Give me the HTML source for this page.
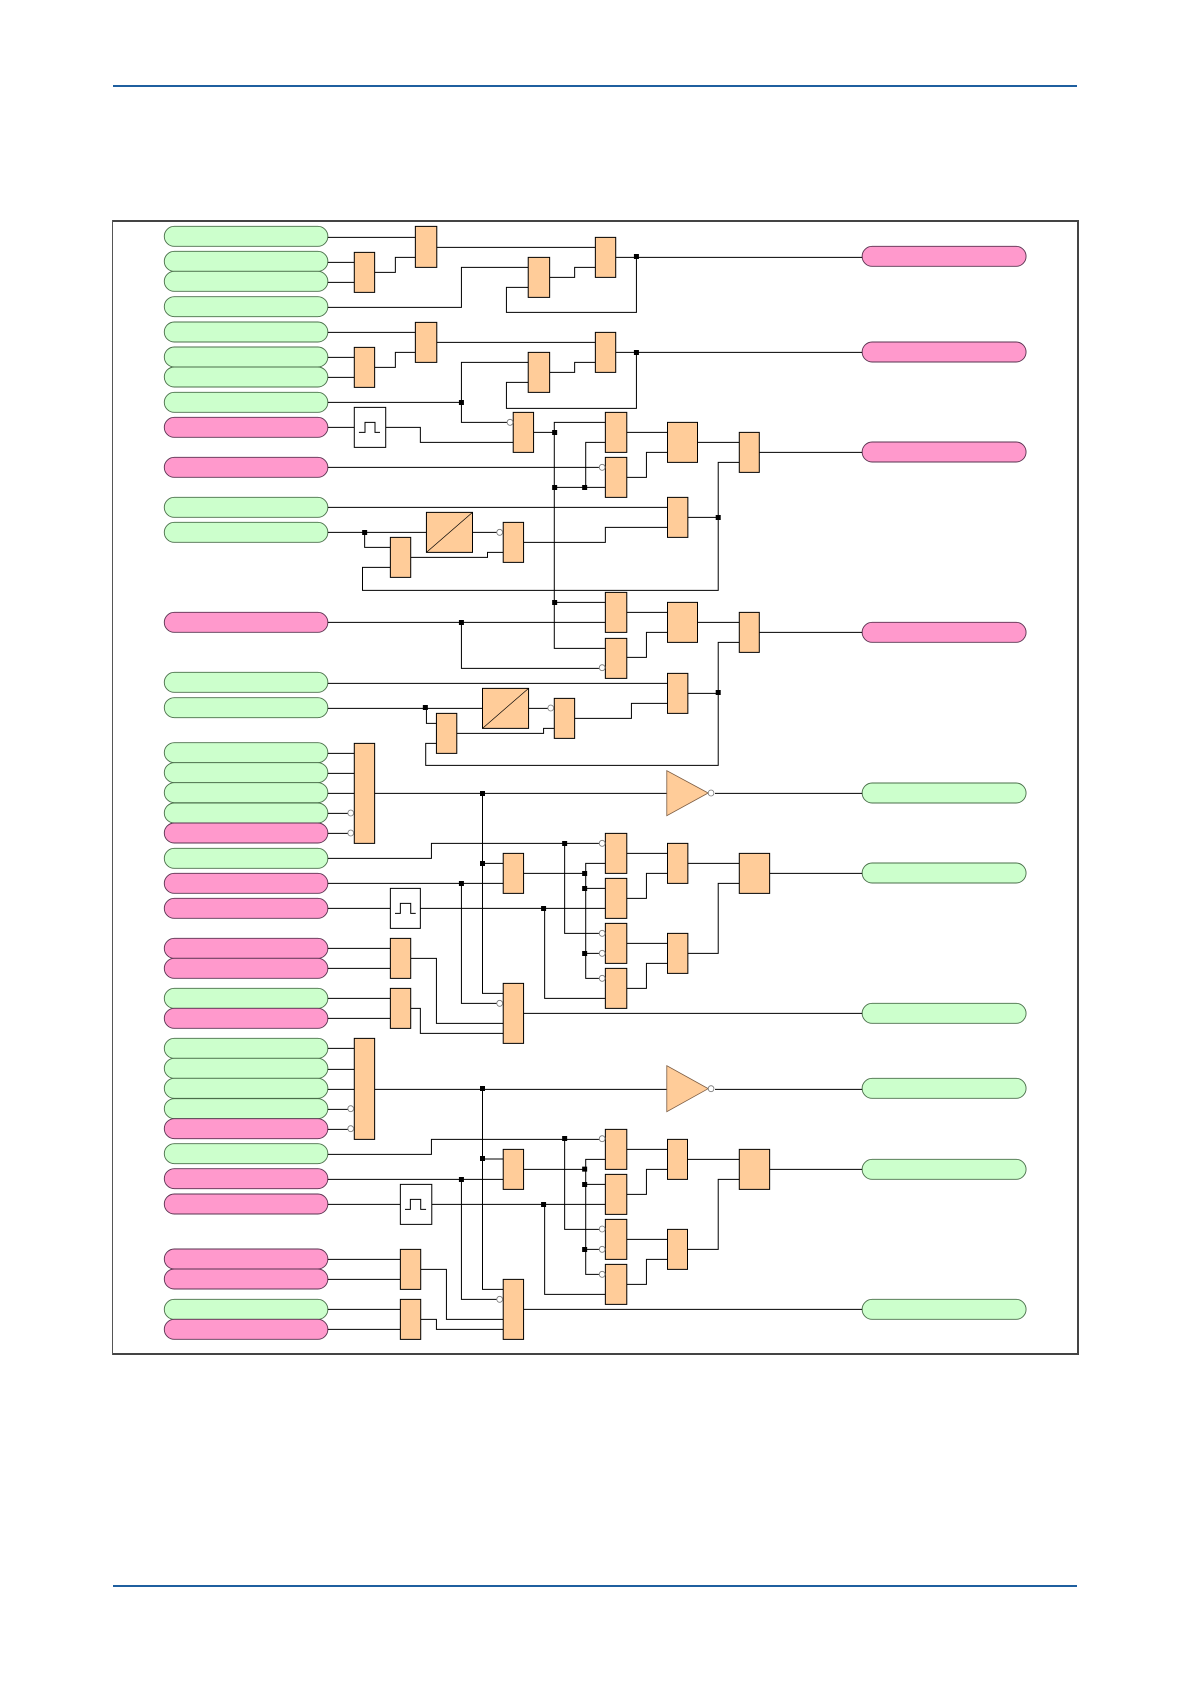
<!DOCTYPE html>
<html>
<head>
<meta charset="utf-8">
<title>Logic diagram</title>
<style>
html,body{margin:0;padding:0;background:#fff;width:1191px;height:1684px;overflow:hidden}
svg{display:block;position:absolute;left:0;top:0}
path,rect,ellipse,polygon{vector-effect:non-scaling-stroke}
.w{fill:none;stroke:#000;stroke-width:1}
.d{fill:none;stroke:#000;stroke-width:.7}
.b{fill:#ffcc99;stroke:#000;stroke-width:1}
.g{fill:#ccffcc;stroke:#4a6f4a;stroke-width:.9}
.p{fill:#ff99cc;stroke:#5a3350;stroke-width:.9}
.j{fill:#000;stroke:none}
.c ellipse{fill:#fff;stroke:#777;stroke-width:.8}
.box{fill:#fff;stroke:#000;stroke-width:1}
.tri{fill:#ffcc99;stroke:#7a5a40;stroke-width:.8}
</style>
</head>
<body>
<svg width="1191" height="1684" viewBox="0 0 1191 1684" xmlns="http://www.w3.org/2000/svg">
<defs>
<rect id="L" x="180" y="0" width="458" height="60" rx="28" ry="30"/>
<rect id="R" x="2134" y="0" width="459" height="60" rx="28" ry="30"/>
</defs>
<path fill="#1f5f9f" d="M113 85h964v2h-964z M113 1585h964v2h-964z"/>
<path fill="#444" d="M112 220h967v2h-967z M1077 220h2v1135h-2z M112 1353h967v2h-967z"/>
<path fill="#555" d="M112 220h1v1135h-1z"/>
<g transform="translate(100 200) scale(.357142857 .333333333)">
<g class="g">
<use href="#L" y="79"/><use href="#L" y="154"/><use href="#L" y="214"/><use href="#L" y="290"/><use href="#L" y="366"/><use href="#L" y="441"/><use href="#L" y="501"/><use href="#L" y="577"/><use href="#L" y="892"/><use href="#L" y="967"/><use href="#L" y="1417"/><use href="#L" y="1493"/><use href="#L" y="1628"/><use href="#L" y="1688"/><use href="#L" y="1748"/><use href="#L" y="1809"/><use href="#L" y="1945"/><use href="#L" y="2365"/><use href="#L" y="2515"/><use href="#L" y="2575"/><use href="#L" y="2635"/><use href="#L" y="2696"/><use href="#L" y="2831"/><use href="#L" y="3298"/>
<use href="#R" y="1749"/><use href="#R" y="1989"/><use href="#R" y="2410"/><use href="#R" y="2635"/><use href="#R" y="2878"/><use href="#R" y="3298"/>
</g>
<g class="p">
<use href="#L" y="652"/><use href="#L" y="772"/><use href="#L" y="1237"/><use href="#L" y="1869"/><use href="#L" y="2020"/><use href="#L" y="2095"/><use href="#L" y="2215"/><use href="#L" y="2275"/><use href="#L" y="2425"/><use href="#L" y="2756"/><use href="#L" y="2906"/><use href="#L" y="2982"/><use href="#L" y="3147"/><use href="#L" y="3207"/><use href="#L" y="3358"/>
<use href="#R" y="139"/><use href="#R" y="426"/><use href="#R" y="726"/><use href="#R" y="1267"/>
</g>
<path class="w" d="M638 112H883M638 187H712M638 247H712M769 217H827V172H883M943 142H1387M638 322H1012V202H1199M1199 262H1138V337H1502V172M1259 232H1329V202H1387M1444 172H2134M638 397H883M638 472H712M638 532H712M769 502H827V457H883M943 427H1387M1199 487H1012V667H1148M638 607H1012M1199 547H1138V625H1502V457M1259 517H1329V487H1387M1444 457H2134M638 682H712M800 682H897V727H1157M1214 697H1272M1415 667H1272V1345H1415M1272 862H1415M1415 727H1360V862M638 802H1397M1272 1207H1415M1475 697H1589M1475 832H1530V757H1589M1673 727H1790M1846 757H2134M638 922H1589M638 997H914M741 997V1042H813M1043 997H1110M870 1072H1085V1057H1129M1186 1027H1415V982H1589M813 1102H735V1171H1731V787H1790M1646 952H1731M638 1267H1415M1012 1267V1405H1397M1475 1237H1589M1475 1372H1530V1297H1589M1673 1267H1790M1846 1297H2134M638 1450H1589M638 1525H1071M914 1525V1570H942M1200 1525H1253M999 1600H1242V1585H1272M1329 1555H1488V1510H1589M942 1630H912V1696H1731V1327H1790M1646 1480H1731M638 1660H712M638 1720H712M638 1780H712M638 1840H694M638 1900H694M769 1780H1587M1722 1780H2134M1071 1780V2380H1129M1071 1990H1129M638 2050H1129M1186 2020H1357M638 1975H928V1930H1397M1301 1930V2200H1397M1415 1990H1360V2335H1397M1357 2065H1415M1357 2260H1397M638 2125H813M897 2125H1415M1245 2125V2395H1415M1012 2050V2410H1110M638 2245H813M638 2305H813M870 2275H942V2470H1129M638 2395H813M638 2455H813M870 2425H897V2500H1129M1186 2440H2134M1475 1960H1589M1475 2095H1530V2020H1589M1646 1990H1790M1875 2020H2134M1475 2230H1589M1475 2365H1530V2290H1589M1646 2260H1731V2050H1790M638 2545H712M638 2608H712M638 2668H712M638 2728H694M638 2788H694M769 2668H1587M1722 2668H2134M1071 2668V3268H1129M1071 2877H1129M638 2938H1129M1012 2938V3298H1110M638 2863H928V2818H1397M1301 2818V3088H1397M1415 2878H1360V3223H1397M1186 2908H1357M1357 2953H1415M1357 3148H1397M638 3013H841M929 3013H1415M1245 3013V3283H1415M638 3178H841M638 3238H841M898 3208H970V3358H1129M638 3328H841M638 3388H841M898 3358H942V3388H1129M1186 3328H2134M1475 2848H1589M1475 2983H1530V2908H1589M1645 2878H1790M1875 2908H2134M1475 3118H1589M1475 3253H1530V3178H1589M1645 3148H1731V2938H1790"/>
<path class="b" d="M883 79h60v123h-60zM712 157h57v120h-57zM1387 112h57v120h-57zM1199 172h60v120h-60zM883 367h60v120h-60zM712 442h57v120h-57zM1387 397h57v120h-57zM1199 457h60v120h-60zM1157 637h57v120h-57zM1415 637h60v120h-60zM1415 772h60v120h-60zM1589 667h84v120h-84zM1790 697h56v120h-56zM1589 892h57v120h-57zM914 937h129v120h-129zM1129 967h57v120h-57zM813 1012h57v120h-57zM1415 1177h60v120h-60zM1415 1315h60v120h-60zM1589 1207h84v120h-84zM1790 1237h56v120h-56zM1589 1420h57v120h-57zM1071 1465h129v120h-129zM1272 1495h57v120h-57zM942 1540h57v120h-57zM712 1630h57v300h-57zM1129 1960h57v120h-57zM1415 1900h60v120h-60zM1415 2035h60v120h-60zM1415 2170h60v120h-60zM1415 2305h60v120h-60zM1589 1930h57v120h-57zM1790 1960h85v120h-85zM1589 2200h57v120h-57zM813 2215h57v120h-57zM813 2365h57v120h-57zM1129 2350h57v180h-57zM712 2515h57v303h-57zM1129 2848h57v120h-57zM1415 2788h60v120h-60zM1415 2923h60v120h-60zM1415 3058h60v120h-60zM1415 3193h60v120h-60zM1589 2818h56v120h-56zM1790 2848h85v120h-85zM1589 3088h56v120h-56zM841 3148h57v120h-57zM841 3298h57v120h-57zM1129 3238h57v180h-57z"/>
<path class="d" d="M914 1057L1043 937M1071 1585L1200 1465"/>
<polygon class="tri" points="1587,1712 1587,1847 1703,1779"/>
<polygon class="tri" points="1587,2597 1587,2735 1703,2666"/>
<path class="box" d="M712 622h88v120h-88zM813 2065h84v120h-84zM841 2953h88v120h-88z"/>
<path class="w" d="M725 697H742V667H770V697H784M826 2140H841V2110H870V2140H884M854 3028H869V2998H898V3028H913"/>
<g class="c">
<ellipse cx="1148" cy="667" rx="8" ry="9"/><ellipse cx="1406" cy="802" rx="8" ry="9"/><ellipse cx="1119" cy="997" rx="8" ry="9"/><ellipse cx="1406" cy="1403" rx="8" ry="9"/><ellipse cx="1262" cy="1524" rx="8" ry="9"/><ellipse cx="702" cy="1839" rx="8" ry="9"/><ellipse cx="702" cy="1899" rx="8" ry="9"/><ellipse cx="1711" cy="1779" rx="8" ry="9"/><ellipse cx="1406" cy="1930" rx="8" ry="9"/><ellipse cx="1406" cy="2200" rx="8" ry="9"/><ellipse cx="1406" cy="2260" rx="8" ry="9"/><ellipse cx="1406" cy="2335" rx="8" ry="9"/><ellipse cx="1119" cy="2410" rx="8" ry="9"/><ellipse cx="702" cy="2726" rx="8" ry="9"/><ellipse cx="702" cy="2786" rx="8" ry="9"/><ellipse cx="1711" cy="2666" rx="8" ry="9"/><ellipse cx="1406" cy="2816" rx="8" ry="9"/><ellipse cx="1406" cy="3087" rx="8" ry="9"/><ellipse cx="1406" cy="3148" rx="8" ry="9"/><ellipse cx="1406" cy="3223" rx="8" ry="9"/><ellipse cx="1119" cy="3298" rx="8" ry="9"/>
</g>
<path class="j" d="M1495 162h14v15h-14zM1495 450h14v15h-14zM1005 600h14v15h-14zM1266 690h14v15h-14zM1266 855h14v15h-14zM1350 855h14v15h-14zM734 990h14v15h-14zM1724 945h14v15h-14zM1266 1200h14v15h-14zM1005 1260h14v15h-14zM1724 1470h14v15h-14zM904 1515h14v15h-14zM1064 1773h14v15h-14zM1294 1923h14v15h-14zM1064 1983h14v15h-14zM1350 2013h14v15h-14zM1005 2043h14v15h-14zM1350 2058h14v15h-14zM1235 2118h14v15h-14zM1350 2253h14v15h-14zM1064 2658h14v15h-14zM1294 2808h14v15h-14zM1064 2868h14v15h-14zM1350 2900h14v15h-14zM1005 2931h14v15h-14zM1350 2946h14v15h-14zM1235 3006h14v15h-14zM1350 3141h14v15h-14z"/>
</g>
</svg>
</body>
</html>
